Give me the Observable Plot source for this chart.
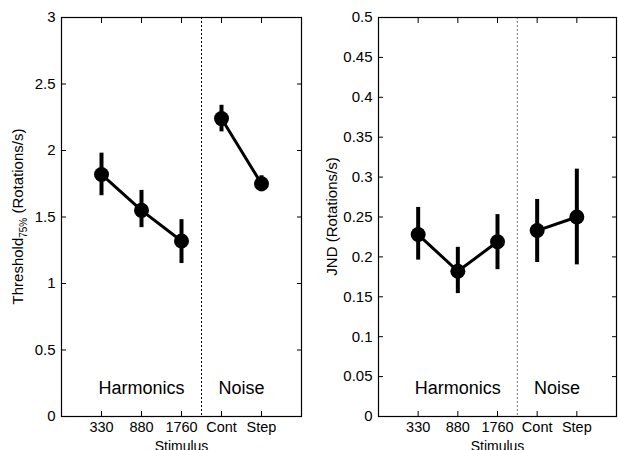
<!DOCTYPE html>
<html><head><meta charset="utf-8">
<script src="https://cdn.jsdelivr.net/npm/d3@7"></script>
<script src="https://cdn.jsdelivr.net/npm/@observablehq/plot@0.6"></script>
<style>
body{margin:0;background:#fff;}
#wrap{display:flex;width:618px;height:450px;overflow:hidden;}
svg{font-family:Arial,"Liberation Sans",sans-serif;}
</style>
</head><body><div id="wrap"></div>
<script>
const stimuli = ["330", "880", "1760", "Cont", "Step"];
const groups = ["Harmonics", "Harmonics", "Harmonics", "Noise", "Noise"];
const groupLabels = ["Harmonics", "Noise"];
const groupCenters = [2, 4.5];
const divider = [3.5];
const threshold = [1.82, 1.55, 1.32, 2.24, 1.75];
const thresholdLo = [1.66, 1.42, 1.15, 2.14, 1.69];
const thresholdHi = [1.98, 1.70, 1.48, 2.34, 1.81];
const thresholdTicks = [0, 0.5, 1, 1.5, 2, 2.5, 3];
const jnd = [0.228, 0.182, 0.219, 0.233, 0.250];
const jndLo = [0.196, 0.154, 0.184, 0.193, 0.190];
const jndHi = [0.262, 0.212, 0.253, 0.272, 0.310];
const jndTicks = [0, 0.05, 0.1, 0.15, 0.2, 0.25, 0.3, 0.35, 0.4, 0.45, 0.5];
const xPositions = [1, 2, 3, 4, 5];

function panel({values, lo, hi, ticks, yMax, width, marginLeft, marginRight, dividerColor, labelX, labelParts}) {
  const data = stimuli.map((s, i) => ({x: xPositions[i], s, g: groups[i], v: values[i], lo: lo[i], hi: hi[i]}));
  const labels = groupLabels.map((l, i) => ({l, x: groupCenters[i]}));
  const plot = Plot.plot({
    width, height: 450,
    marginLeft, marginRight, marginTop: 17, marginBottom: 34,
    style: {fontSize: "15px", fontFamily: "Arial, 'Liberation Sans', sans-serif", color: "#000", background: "#fff", overflow: "visible"},
    x: {domain: [0, 6]},
    y: {domain: [0, yMax]},
    marks: [
      Plot.ruleX(divider, {stroke: dividerColor, strokeDasharray: "2,2", strokeWidth: 1}),
      Plot.frame({stroke: "#000", strokeWidth: 1.2}),
      Plot.axisY(ticks, {anchor: "left", tickSize: -5, tickPadding: 11, tickFormat: d => String(d), label: null, fontSize: 15}),
      Plot.axisY(ticks, {anchor: "right", tickSize: -5, tickFormat: () => "", label: null}),
      Plot.axisX(xPositions, {anchor: "bottom", tickSize: -5, tickPadding: 10, tickFormat: (d, i) => stimuli[i], label: null, fontSize: 14.5}),
      Plot.axisX({anchor: "bottom", ticks: [], label: "Stimulus", labelArrow: "none", labelAnchor: "center", labelOffset: 34, fontSize: 14}),
      Plot.axisX(xPositions, {anchor: "top", tickSize: -5, tickFormat: () => "", label: null}),
      Plot.ruleX(data, {x: "x", y1: "lo", y2: "hi", stroke: "#000", strokeWidth: 4}),
      Plot.line(data, {x: "x", y: "v", z: "g", stroke: "#000", strokeWidth: 3}),
      Plot.dot(data, {x: "x", y: "v", r: 7.5, fill: "#000", stroke: null}),
      Plot.text(labels, {x: "x", frameAnchor: "bottom", dy: -23, text: "l", fontSize: 18, fill: "#000"})
    ]
  });
  const svg = d3.select(plot);
  const t = svg.append("text")
    .attr("transform", `translate(${labelX},${17 + (450 - 17 - 34) / 2}) rotate(-90)`)
    .attr("text-anchor", "middle")
    .attr("font-size", 15)
    .attr("fill", "#000");
  labelParts.forEach(p => {
    const ts = t.append("tspan").text(p.text);
    if (p.size) ts.attr("font-size", p.size);
    if (p.dy) ts.attr("dy", p.dy);
  });
  return plot;
}

const wrap = document.getElementById("wrap");
wrap.appendChild(panel({
  values: threshold, lo: thresholdLo, hi: thresholdHi, ticks: thresholdTicks, yMax: 3,
  width: 310, marginLeft: 61, marginRight: 9, dividerColor: "#000", labelX: 23,
  labelParts: [{text: "Threshold"}, {text: "75%", size: 10, dy: 4}, {text: " (Rotations/s)", dy: -4}]
}));
wrap.appendChild(panel({
  values: jnd, lo: jndLo, hi: jndHi, ticks: jndTicks, yMax: 0.5,
  width: 308, marginLeft: 68, marginRight: 2, dividerColor: "#777", labelX: 27,
  labelParts: [{text: "JND (Rotations/s)"}]
}));
</script>
</body></html>
